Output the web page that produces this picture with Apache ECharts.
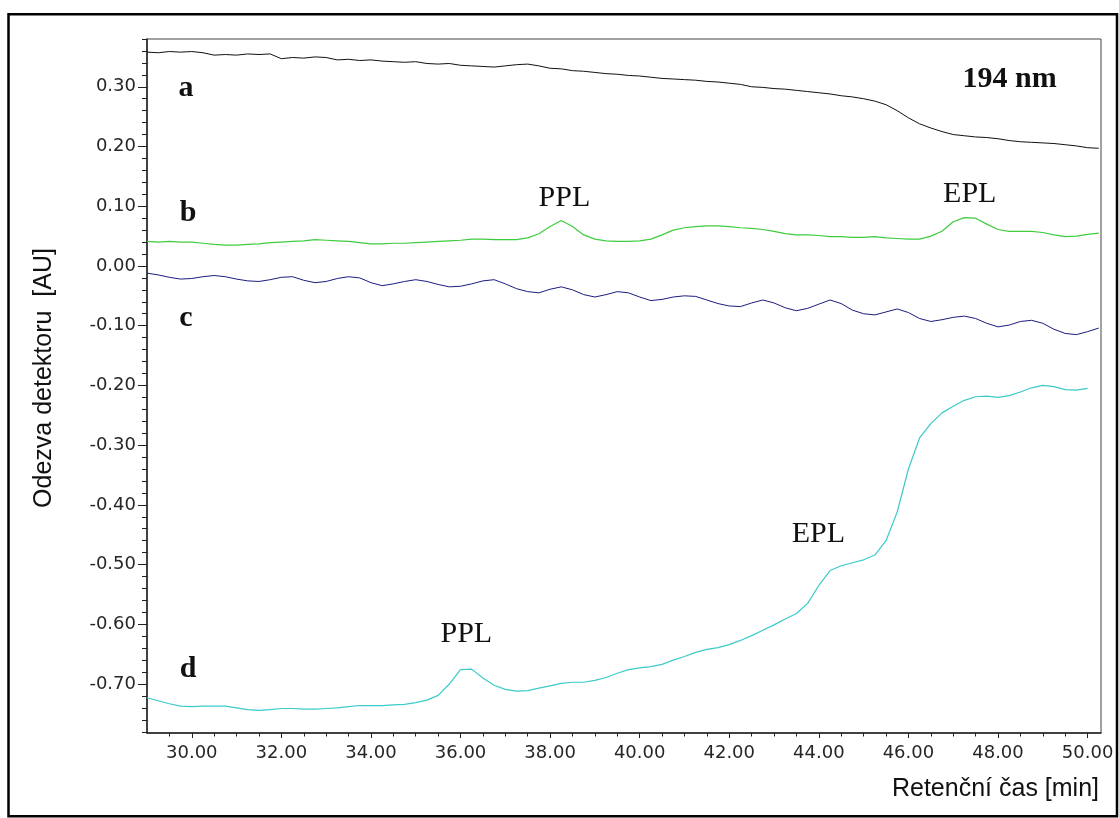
<!DOCTYPE html>
<html><head><meta charset="utf-8">
<script src="https://cdn.jsdelivr.net/npm/echarts@6/dist/echarts.min.js"></script>
<style>html,body{margin:0;padding:0;background:#fff}#c{width:1119px;height:818px}</style>
</head><body><div id="c"></div>
<script>
// Retention time samples [min]
const times = [29.00,29.25,29.50,29.75,30.00,30.25,30.50,30.75,31.00,31.25,31.50,31.75,32.00,32.25,32.50,32.75,33.00,33.25,33.50,33.75,34.00,34.25,34.50,34.75,35.00,35.25,35.50,35.75,36.00,36.25,36.50,36.75,37.00,37.25,37.50,37.75,38.00,38.25,38.50,38.75,39.00,39.25,39.50,39.75,40.00,40.25,40.50,40.75,41.00,41.25,41.50,41.75,42.00,42.25,42.50,42.75,43.00,43.25,43.50,43.75,44.00,44.25,44.50,44.75,45.00,45.25,45.50,45.75,46.00,46.25,46.50,46.75,47.00,47.25,47.50,47.75,48.00,48.25,48.50,48.75,49.00,49.25,49.50,49.75,50.00,50.25];

// trace a (black)
const traceA = [0.358,0.357,0.359,0.358,0.359,0.357,0.353,0.354,0.353,0.355,0.354,0.355,0.347,0.349,0.348,0.350,0.349,0.345,0.346,0.344,0.345,0.343,0.342,0.341,0.342,0.339,0.338,0.339,0.336,0.335,0.334,0.333,0.335,0.337,0.338,0.335,0.331,0.330,0.327,0.326,0.324,0.322,0.321,0.319,0.318,0.316,0.314,0.313,0.312,0.311,0.309,0.308,0.306,0.304,0.300,0.299,0.297,0.296,0.294,0.292,0.290,0.288,0.285,0.283,0.280,0.276,0.270,0.260,0.248,0.238,0.231,0.225,0.220,0.218,0.216,0.215,0.213,0.210,0.208,0.207,0.206,0.205,0.203,0.201,0.198,0.197];

// trace b (green)
const traceB = [0.041,0.040,0.041,0.040,0.040,0.038,0.036,0.035,0.035,0.036,0.037,0.039,0.040,0.041,0.042,0.044,0.043,0.042,0.041,0.039,0.037,0.037,0.038,0.038,0.039,0.040,0.041,0.042,0.043,0.045,0.045,0.044,0.044,0.044,0.047,0.054,0.066,0.076,0.066,0.052,0.045,0.042,0.041,0.041,0.042,0.045,0.052,0.060,0.064,0.066,0.067,0.067,0.066,0.064,0.063,0.061,0.058,0.054,0.052,0.052,0.051,0.049,0.049,0.048,0.048,0.049,0.047,0.046,0.045,0.045,0.050,0.058,0.074,0.081,0.080,0.070,0.061,0.058,0.058,0.058,0.056,0.052,0.049,0.050,0.053,0.055];

// trace c (navy)
const traceC = [-0.012,-0.015,-0.019,-0.022,-0.021,-0.018,-0.016,-0.018,-0.022,-0.025,-0.026,-0.023,-0.019,-0.018,-0.024,-0.028,-0.026,-0.021,-0.018,-0.020,-0.028,-0.033,-0.030,-0.026,-0.023,-0.026,-0.031,-0.035,-0.034,-0.030,-0.025,-0.023,-0.030,-0.038,-0.043,-0.045,-0.039,-0.035,-0.040,-0.048,-0.052,-0.048,-0.043,-0.045,-0.052,-0.058,-0.056,-0.052,-0.050,-0.051,-0.057,-0.063,-0.067,-0.068,-0.062,-0.057,-0.062,-0.070,-0.075,-0.071,-0.064,-0.057,-0.063,-0.074,-0.080,-0.082,-0.077,-0.072,-0.078,-0.088,-0.093,-0.090,-0.086,-0.084,-0.088,-0.096,-0.102,-0.099,-0.093,-0.091,-0.096,-0.106,-0.113,-0.115,-0.110,-0.104];

// trace d (cyan), ends at 50.00 min
const traceD = [-0.723,-0.728,-0.733,-0.737,-0.738,-0.737,-0.737,-0.737,-0.740,-0.743,-0.744,-0.743,-0.741,-0.741,-0.742,-0.742,-0.741,-0.740,-0.738,-0.736,-0.736,-0.736,-0.735,-0.734,-0.731,-0.727,-0.719,-0.700,-0.676,-0.675,-0.690,-0.702,-0.709,-0.712,-0.711,-0.707,-0.703,-0.699,-0.697,-0.697,-0.694,-0.689,-0.682,-0.676,-0.673,-0.671,-0.667,-0.660,-0.654,-0.647,-0.642,-0.639,-0.634,-0.627,-0.619,-0.610,-0.601,-0.591,-0.582,-0.565,-0.535,-0.510,-0.502,-0.497,-0.492,-0.484,-0.460,-0.412,-0.340,-0.288,-0.264,-0.246,-0.235,-0.225,-0.219,-0.218,-0.220,-0.217,-0.211,-0.204,-0.200,-0.202,-0.207,-0.208,-0.205];

const yTickValues = [0.30,0.20,0.10,0.00,-0.10,-0.20,-0.30,-0.40,-0.50,-0.60,-0.70];
const xTickValues = [30,32,34,36,38,40,42,44,46,48,50];

const yMinor = [];
for (let k = -39; k <= 19; k++) { if (k % 5 !== 0) yMinor.push(k / 50); }
const xMinor = [];
for (let k = 59; k <= 100; k++) { if (k % 4 !== 0) xMinor.push(k / 2); }

function pairs(vals) { return vals.map((v, i) => [times[i], v]); }

const chart = echarts.init(document.getElementById('c'), null, {renderer: 'canvas'});

const axisColor = '#222';
const tickFont = {fontFamily: 'DejaVu Sans', fontSize: 18, color: '#262626'};
const serif = 'Liberation Serif';

chart.setOption({
  animation: false,
  backgroundColor: '#fff',
  grid: {left: 147, top: 39, right: 18, bottom: 85, show: true, borderColor: '#444', borderWidth: 1},
  xAxis: [
    {
      type: 'value', min: 29, max: 50.3, position: 'bottom',
      name: 'Retenční čas [min]', nameLocation: 'end', nameGap: -2,
      nameTextStyle: {fontFamily: 'Liberation Sans', fontSize: 25, color: '#111', align: 'right', verticalAlign: 'top', padding: [44, 0, 0, 0]},
      axisLine: {show: true, onZero: false, lineStyle: {color: axisColor, width: 1.5}},
      axisTick: {show: true, customValues: xTickValues, length: 5, lineStyle: {color: axisColor}},
      axisLabel: Object.assign({customValues: xTickValues, formatter: v => v.toFixed(2), margin: 11}, tickFont),
      splitLine: {show: false}
    },
    {
      type: 'value', min: 29, max: 50.3, position: 'bottom',
      axisLine: {show: false, onZero: false},
      axisTick: {show: true, customValues: xMinor, length: 3.5, lineStyle: {color: axisColor}},
      axisLabel: {show: false}, splitLine: {show: false}
    }
  ],
  yAxis: [
    {
      type: 'value', min: -0.782, max: 0.38, position: 'left',
      name: 'Odezva detektoru  [AU]', nameLocation: 'middle', nameGap: 90, nameRotate: 90,
      nameTextStyle: {fontFamily: 'Liberation Sans', fontSize: 25, color: '#111', padding: [0, 0, 0, 16]},
      axisLine: {show: true, onZero: false, lineStyle: {color: axisColor, width: 1.5}},
      axisTick: {show: true, customValues: yTickValues, length: 9, lineStyle: {color: axisColor}},
      axisLabel: Object.assign({customValues: yTickValues, formatter: v => v.toFixed(2), margin: 11}, tickFont),
      splitLine: {show: false}
    },
    {
      type: 'value', min: -0.782, max: 0.38, position: 'left',
      axisLine: {show: false, onZero: false},
      axisTick: {show: true, customValues: yMinor, length: 5, lineStyle: {color: axisColor}},
      axisLabel: {show: false}, splitLine: {show: false}
    }
  ],
  graphic: [
    {type: 'rect', silent: true, shape: {x: 8.5, y: 14.3, width: 1108.5, height: 802}, style: {fill: 'none', stroke: '#000', lineWidth: 2.5}}
  ],
  series: [
    {
      name: 'a', type: 'line', xAxisIndex: 0, yAxisIndex: 0, data: pairs(traceA),
      symbol: 'none', lineStyle: {color: '#111', width: 1}, z: 3,
      markPoint: {
        silent: true, symbol: 'circle', symbolSize: 1, itemStyle: {color: 'rgba(0,0,0,0)'},
        label: {show: true, position: 'inside', formatter: p => p.name, fontFamily: serif, fontSize: 30, color: '#111'},
        data: [
          {name: 'a', coord: [29.87, 0.297], label: {fontWeight: 'bold'}},
          {name: 'b', coord: [29.92, 0.089], label: {fontWeight: 'bold'}},
          {name: 'c', coord: [29.87, -0.087], label: {fontWeight: 'bold'}},
          {name: 'd', coord: [29.92, -0.675], label: {fontWeight: 'bold'}},
          {name: '194 nm', coord: [48.26, 0.312], label: {fontWeight: 'bold'}},
          {name: 'PPL', coord: [38.32, 0.114]},
          {name: 'EPL', coord: [47.37, 0.121]},
          {name: 'PPL', coord: [36.13, -0.616]},
          {name: 'EPL', coord: [43.99, -0.449]}
        ]
      }
    },
    {name: 'b', type: 'line', xAxisIndex: 0, yAxisIndex: 0, data: pairs(traceB), symbol: 'none', lineStyle: {color: '#3fcc3f', width: 1.2}},
    {name: 'c', type: 'line', xAxisIndex: 0, yAxisIndex: 0, data: pairs(traceC), symbol: 'none', lineStyle: {color: '#1c1c7e', width: 1}},
    {name: 'd', type: 'line', xAxisIndex: 0, yAxisIndex: 0, data: pairs(traceD), symbol: 'none', lineStyle: {color: '#3ccaca', width: 1.2}}
  ]
});
</script>
</body></html>
